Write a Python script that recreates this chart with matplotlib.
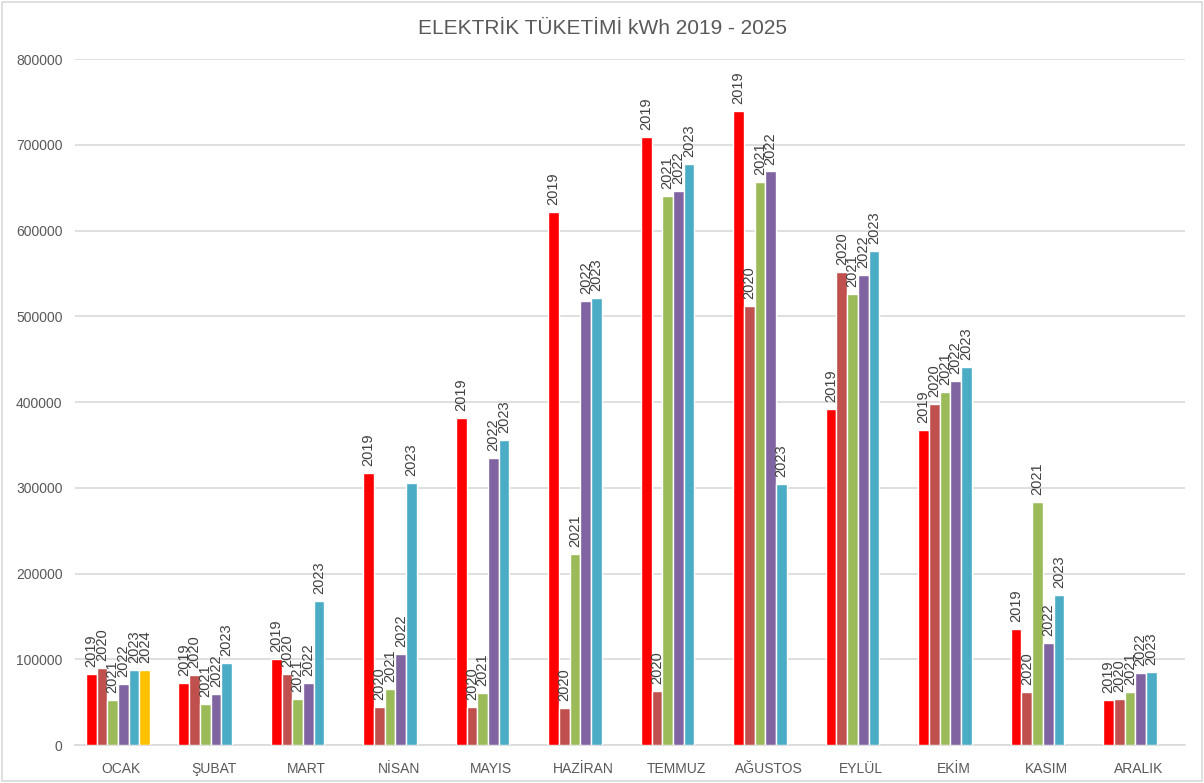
import numpy as np
import matplotlib.pyplot as plt
from matplotlib.patches import Rectangle

plt.rcParams['font.family'] = ['Liberation Sans Narrow', 'Liberation Sans', 'DejaVu Sans']

months = ["OCAK", "ŞUBAT", "MART", "NİSAN", "MAYIS", "HAZİRAN",
          "TEMMUZ", "AĞUSTOS", "EYLÜL", "EKİM", "KASIM", "ARALIK"]
years = ["2019", "2020", "2021", "2022", "2023", "2024"]
colors = ["#FF0000", "#C0504D", "#9BBB59", "#8064A2", "#4BACC6", "#FFC000"]

kwh_2019 = [82400, 72300, 100300, 316800, 381700, 621800, 708600, 739600, 391800, 367300, 134900, 52100]
kwh_2020 = [89800, 81200, 83100, 44700, 43900, 42800, 63000, 511900, 551600, 397300, 61400, 53600]
kwh_2021 = [52800, 48200, 53600, 64900, 60300, 222700, 640500, 656800, 525900, 412000, 283400, 61800]
kwh_2022 = [71100, 59100, 71900, 106100, 334700, 517700, 646000, 668900, 547700, 424500, 118900, 84000]
kwh_2023 = [87800, 95200, 167500, 305200, 355300, 521200, 677400, 304400, 576100, 441100, 175300, 85100]
kwh_2024 = [87100, None, None, None, None, None, None, None, None, None, None, None]

series = [kwh_2019, kwh_2020, kwh_2021, kwh_2022, kwh_2023, kwh_2024]

fig = plt.figure(figsize=(12.04, 7.83), dpi=100)
ax = fig.add_axes([0.0623, 0.0485, 0.9217, 0.8761])

x = np.arange(len(months))
w = 0.1157
for i, (yr, vals) in enumerate(zip(years, series)):
    off = (i - 2.8) * w
    for j, v in enumerate(vals):
        if v is None:
            continue
        ax.bar(x[j] + off, v, width=w, color=colors[i], edgecolor="white", linewidth=1.0, zorder=3)
        ax.annotate(yr, (x[j] + off, v), xytext=(0, 5), textcoords="offset points",
                    rotation=90, ha="center", va="bottom", fontsize=10.5, color="#404040")

ax.set_xlim(-0.5, len(months) - 0.5)
ax.set_ylim(0, 800000)
ax.set_yticks(np.arange(0, 800001, 100000))
ax.set_xticks(x)
ax.set_xticklabels(months)
ax.yaxis.grid(True, color="#D9D9D9", linewidth=1.2, zorder=0)
ax.tick_params(axis="both", length=0, labelsize=10, labelcolor="#595959")
ax.tick_params(axis="x", pad=12)
ax.tick_params(axis="y", pad=9)
for s in ["top", "right", "left"]:
    ax.spines[s].set_visible(False)
ax.spines["bottom"].set_color("#D9D9D9")
ax.spines["bottom"].set_linewidth(1.2)

fig.text(0.5, 0.964, "ELEKTRİK TÜKETİMİ kWh 2019 - 2025", ha="center", va="center",
         fontsize=15, color="#595959")

fig.patches.append(Rectangle((0.002, 0.003), 0.996, 0.994, transform=fig.transFigure,
                             fill=False, edgecolor="#D9D9D9", linewidth=1.2))

fig.savefig("out.png", dpi=100)
